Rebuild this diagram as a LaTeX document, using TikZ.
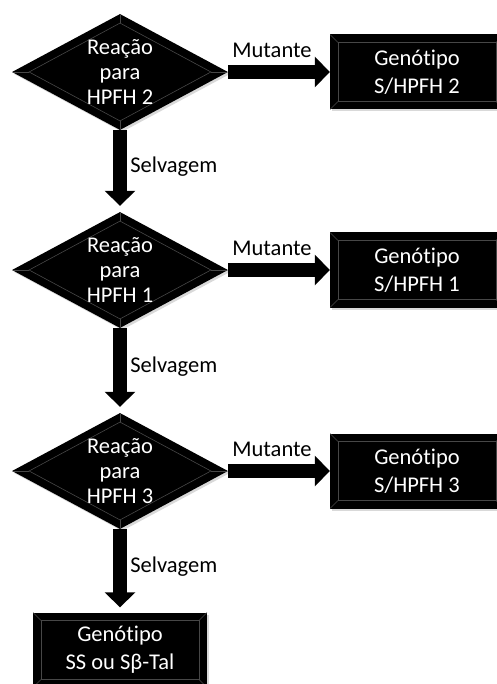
\documentclass[tikz,border=0pt]{standalone}
\usepackage{fontspec}
\setmainfont{Carlito}[Ligatures=NoCommon]
\usetikzlibrary{shapes.geometric, arrows.meta, shadows, calc}

\tikzset{
  bevel/.style={draw=black!72, line width=0.6pt},
  decision/.style={diamond, aspect=1.86, minimum width=216pt, minimum height=116pt,
    inner sep=-2pt, fill=black, text=white, align=center,
    font=\fontsize{22.5}{25}\selectfont,
    drop shadow={shadow xshift=2pt, shadow yshift=-2pt, opacity=0.3},
    path picture={
      \coordinate (pn) at (path picture bounding box.north);
      \coordinate (ps) at (path picture bounding box.south);
      \coordinate (pe) at (path picture bounding box.east);
      \coordinate (pw) at (path picture bounding box.west);
      \draw[bevel] ($(pn)+(0,-9pt)$) -- ($(pe)+(-17pt,0)$) -- ($(ps)+(0,9pt)$) -- ($(pw)+(17pt,0)$) -- cycle;
      \draw[bevel] (pn) -- +(0,-9pt) (pe) -- +(-17pt,0) (ps) -- +(0,9pt) (pw) -- +(17pt,0);
    }},
  genbox/.style={rectangle, minimum width=174pt, minimum height=75pt,
    fill=black, text=white, align=center,
    font=\fontsize{22.5}{28}\selectfont,
    drop shadow={shadow xshift=2pt, shadow yshift=-2pt, opacity=0.3},
    path picture={
      \coordinate (bnw) at (path picture bounding box.north west);
      \coordinate (bse) at (path picture bounding box.south east);
      \coordinate (bne) at (path picture bounding box.north east);
      \coordinate (bsw) at (path picture bounding box.south west);
      \draw[bevel] ($(bnw)+(8pt,-8pt)$) rectangle ($(bse)+(-8pt,8pt)$);
      \draw[bevel] (bnw) -- +(8pt,-8pt) (bne) -- +(-8pt,-8pt) (bse) -- +(-8pt,8pt) (bsw) -- +(8pt,8pt);
    }},
  blockarrow/.style={line width=14pt, black, -{Triangle[length=15pt, width=30pt]}},
  armlabel/.style={text=black, outer sep=0pt, font=\fontsize{22.5}{27.5}\selectfont}
}

\begin{document}
\begin{tikzpicture}[x=1pt, y=1pt]
  \useasboundingbox (0,0) rectangle (496,-684);

  \node[decision] (hpfh2) at (120,-72) {Reação\\para\\HPFH 2};
  \node[decision] (hpfh1) at (120,-270) {Reação\\para\\HPFH 1};
  \node[decision] (hpfh3) at (120,-471) {Reação\\para\\HPFH 3};

  \node[genbox] (gen2) at (417,-72) {Genótipo\\S/HPFH 2};
  \node[genbox] (gen1) at (417,-270) {Genótipo\\S/HPFH 1};
  \node[genbox] (gen3) at (417,-471) {Genótipo\\S/HPFH 3};
  \node[genbox] (genss) at (120,-650) {Genótipo\\SS ou Sβ-Tal};

  \draw[blockarrow] (hpfh2) -- node[armlabel, midway, above=11pt, xshift=-7pt] (mut2) {Mutante} (gen2);
  \draw[blockarrow] (hpfh1) -- node[armlabel, midway, above=11pt, xshift=-7pt] (mut1) {Mutante} (gen1);
  \draw[blockarrow] (hpfh3) -- node[armlabel, midway, above=11pt, xshift=-7pt] (mut3) {Mutante} (gen3);

  \draw[blockarrow, shorten >=6pt] (hpfh2) -- node[armlabel, midway, right=7pt, yshift=4pt] (sel2) {Selvagem} (hpfh1);
  \draw[blockarrow, shorten >=6pt] (hpfh1) -- node[armlabel, midway, right=7pt, yshift=4pt] (sel1) {Selvagem} (hpfh3);
  \draw[blockarrow, shorten >=5pt] (hpfh3) -- node[armlabel, midway, right=7pt, yshift=4pt] (sel3) {Selvagem} (genss);
\end{tikzpicture}
\end{document}
